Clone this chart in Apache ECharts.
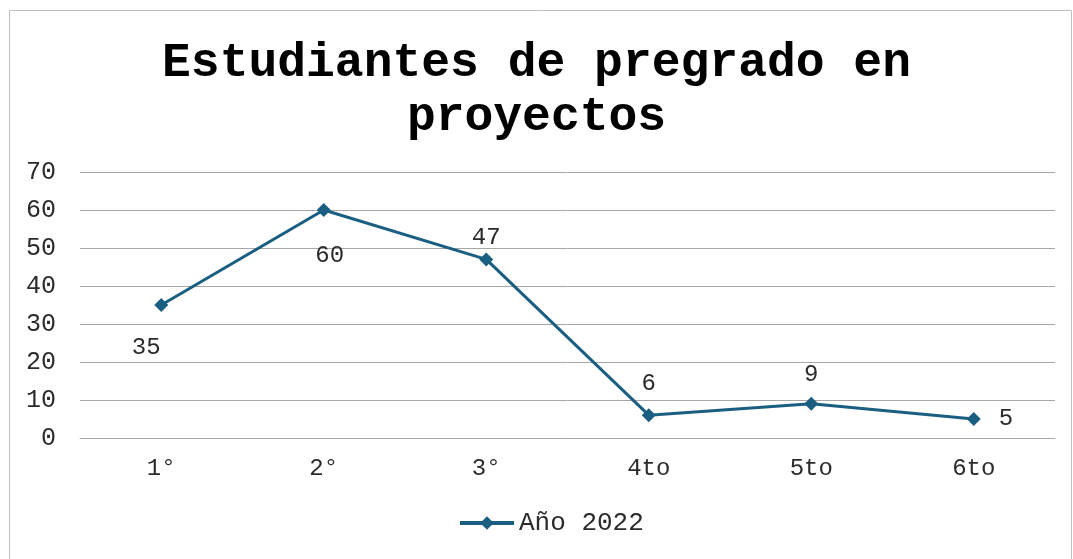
<!DOCTYPE html>
<html>
<head>
<meta charset="utf-8">
<script src="https://cdn.jsdelivr.net/npm/echarts@6/dist/echarts.min.js"></script>
<style>
html,body{margin:0;padding:0;background:#fff;}
#chart{width:1073px;height:559px;}
</style>
</head>
<body>
<div id="chart"></div>
<script>
const titleText = 'Estudiantes de pregrado en\nproyectos';
const categories = ['1°', '2°', '3°', '4to', '5to', '6to'];
const seriesName = 'Año 2022';
const values = [35, 60, 47, 6, 9, 5];
const labelPlacement = ['bottom', 'bottom', 'top', 'top', 'top', 'right'];

const FONT = '"Liberation Mono", "Courier New", monospace';
const COLOR = '#1a5f82';
const TEXT = '#2b2b2b';
const labelTweaks = [
  {distance: 24, offset: [-15, 0]},
  {distance: 27, offset: [6, 0]},
  {distance: 3, offset: [0, 0]},
  {distance: 13, offset: [0, 0]},
  {distance: 10, offset: [0, 0]},
  {distance: 18, offset: [0, 0]}
];

const chart = echarts.init(document.getElementById('chart'));
chart.setOption({
  animation: false,
  backgroundColor: '#fff',
  graphic: [{
    type: 'rect',
    shape: {x: 9.5, y: 10.5, width: 1062, height: 560},
    style: {fill: 'none', stroke: '#bfbfbf', lineWidth: 1}
  }],
  title: {
    text: titleText,
    left: 'center',
    top: 32,
    textStyle: {fontFamily: FONT, fontSize: 48, fontWeight: 'bold', color: '#000', lineHeight: 54}
  },
  legend: {
    bottom: 18,
    left: 453,
    itemWidth: 54,
    itemHeight: 17,
    itemGap: 10,
    lineStyle: {width: 4},
    textStyle: {fontFamily: FONT, fontSize: 26, color: TEXT},
    data: [seriesName]
  },
  grid: {left: 80, right: 18, top: 172, bottom: 121, containLabel: false},
  xAxis: {
    type: 'category',
    data: categories,
    boundaryGap: true,
    axisLine: {lineStyle: {color: '#a6a6a6', width: 1}},
    axisTick: {show: false},
    axisLabel: {fontFamily: FONT, fontSize: 24, color: TEXT, margin: 19}
  },
  yAxis: {
    type: 'value',
    min: 0, max: 70, interval: 10,
    axisLine: {show: false},
    axisTick: {show: false},
    splitLine: {lineStyle: {color: '#a6a6a6', width: 1}},
    axisLabel: {fontFamily: FONT, fontSize: 25, color: TEXT, margin: 24}
  },
  series: [{
    name: seriesName,
    type: 'line',
    data: values.map((v, i) => ({
      value: v,
      label: {position: labelPlacement[i], distance: labelTweaks[i].distance, offset: labelTweaks[i].offset}
    })),
    symbol: 'diamond',
    symbolSize: 14,
    lineStyle: {color: COLOR, width: 3},
    itemStyle: {color: COLOR},
    label: {show: true, fontFamily: FONT, fontSize: 24, color: TEXT}
  }]
});
</script>
</body>
</html>
